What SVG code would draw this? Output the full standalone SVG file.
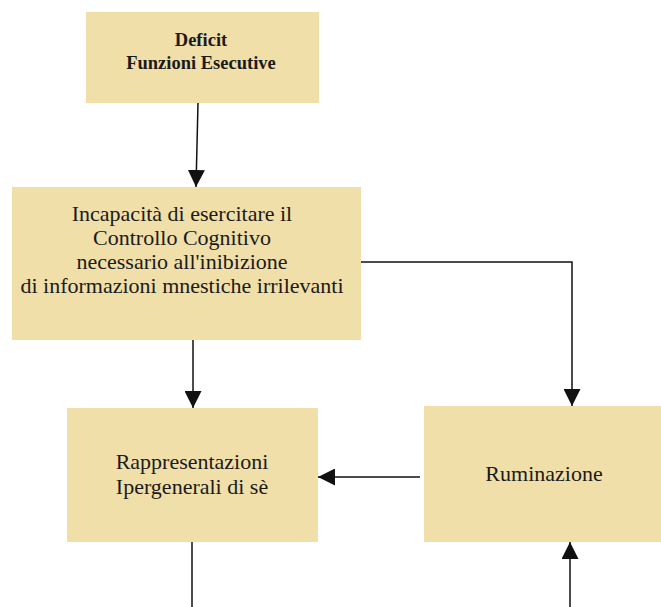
<svg xmlns="http://www.w3.org/2000/svg" width="661" height="607" viewBox="0 0 661 607">
<style>
.box{fill:#F1DFA9;}
.t{font-family:"Liberation Serif","Times New Roman",serif;fill:#1a1a1a;text-anchor:middle;}
.b{font-weight:bold;font-size:18.5px;}
.n{font-size:22px;}
.c{stroke:#111;stroke-width:1.5;fill:none;}
</style>
<defs>
<marker id="ah" viewBox="0 0 10 10" refX="10" refY="5" markerWidth="17" markerHeight="17" markerUnits="userSpaceOnUse" orient="auto">
<path d="M0,0 L10,5 L0,10 z" fill="#111"/>
</marker>
</defs>
<rect width="661" height="607" fill="#fff"/>
<g id="n1">
<rect class="box" x="86" y="12" width="233" height="91"/>
<text class="t b" x="201" y="46">Deficit</text>
<text class="t b" x="201" y="69">Funzioni Esecutive</text>
</g>
<g id="n2">
<rect class="box" x="12" y="187" width="349" height="153"/>
<text class="t n" x="182" y="221">Incapacità di esercitare il</text>
<text class="t n" x="182" y="245">Controllo Cognitivo</text>
<text class="t n" x="182" y="269">necessario all'inibizione</text>
<text class="t n" x="182" y="293">di informazioni mnestiche irrilevanti</text>
</g>
<g id="n3">
<rect class="box" x="67" y="408" width="251" height="134"/>
<text class="t n" x="192" y="469">Rappresentazioni</text>
<text class="t n" x="192" y="494">Ipergenerali di sè</text>
</g>
<g id="n4">
<rect class="box" x="424" y="406" width="237" height="136"/>
<text class="t n" x="544" y="481">Ruminazione</text>
</g>
<g id="connectors">
<path class="c" d="M198,103 L196,187" marker-end="url(#ah)"/>
<path class="c" d="M193,340 L193,408" marker-end="url(#ah)"/>
<path class="c" d="M361,262 L572,262 L572,406" marker-end="url(#ah)"/>
<path class="c" d="M420,477 L318,477" marker-end="url(#ah)"/>
<path class="c" d="M192,542 L192,607"/>
<path class="c" d="M570,607 L570,542" marker-end="url(#ah)"/>
</g>
</svg>
